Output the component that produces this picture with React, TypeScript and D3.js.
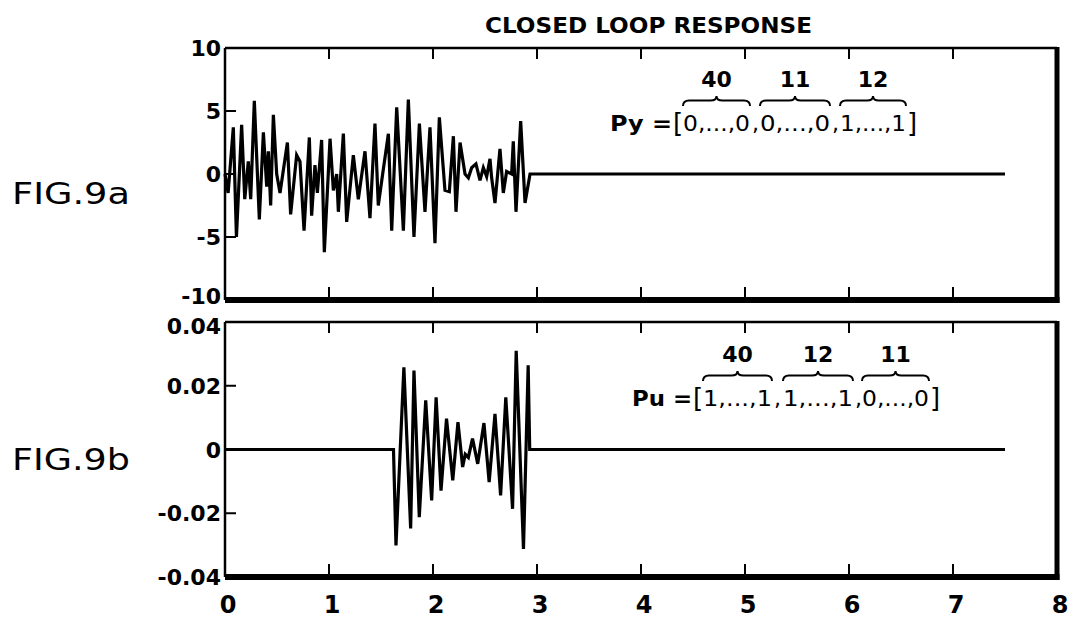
import React from 'react'
import * as d3 from 'd3'

// top panel: output y, bottom panel: control u (time in seconds)
const yTime = [0, 0.03, 0.08, 0.11, 0.16, 0.19, 0.224, 0.247, 0.282, 0.33, 0.369, 0.401, 0.417, 0.439, 0.465, 0.497, 0.529, 0.6, 0.631, 0.689, 0.721, 0.76, 0.811, 0.833, 0.865, 0.888, 0.929, 0.955, 1.01, 1.042, 1.074, 1.09, 1.138, 1.17, 1.234, 1.282, 1.346, 1.394, 1.442, 1.474, 1.516, 1.571, 1.603, 1.651, 1.715, 1.763, 1.817, 1.869, 1.923, 1.971, 2.019, 2.061, 2.115, 2.157, 2.196, 2.221, 2.26, 2.308, 2.34, 2.372, 2.413, 2.452, 2.484, 2.516, 2.548, 2.564, 2.596, 2.644, 2.676, 2.708, 2.756, 2.772, 2.798, 2.843, 2.885, 2.933, 7.5]
const yValues = [0, -1.5, 3.7, -5, 3.9, -2, 1, -2, 5.8, -3.6, 3.3, -1, 1.8, -2.5, 4.7, 0, -1.5, 2.5, -3.2, 1.5, 1, -4.5, 2.9, -3.3, 0.7, -1.5, 2.7, -6.2, 2.8, -1.3, 0, -3, 3.2, -3.8, 1.5, -2, 1.8, -3.5, 4, -2.5, 0, 3.2, -4.5, 5.3, -4.5, 5.9, -5, 4, -3, 3.7, -5.5, 4.5, -1.3, -1.4, 3, -3, 2.5, 0, -0.3, 0.5, 0.8, -0.5, 0.5, -0.2, 1.2, -0.3, -2.3, 2, -1.5, 0.2, 0, 2.6, -3, 4.2, -2.3, 0, 0]

const uTime = [0, 1.62, 1.644, 1.72, 1.785, 1.817, 1.868, 1.93, 1.987, 2.03, 2.077, 2.13, 2.19, 2.24, 2.285, 2.31, 2.34, 2.38, 2.43, 2.49, 2.54, 2.596, 2.65, 2.7, 2.765, 2.8, 2.87, 2.915, 2.93, 7.5]
const uValues = [0, 0, -0.0301, 0.0258, -0.0248, 0.0248, -0.0212, 0.0154, -0.016, 0.0164, -0.0129, 0.0097, -0.0097, 0.0086, -0.0055, -0.0015, -0.0025, 0.0034, -0.0045, 0.0083, -0.0102, 0.0112, -0.0144, 0.0164, -0.0186, 0.031, -0.0312, 0.0264, 0, 0]

const xTicks = [0, 1, 2, 3, 4, 5, 6, 7, 8]
const yTicksTop = [10, 5, 0, -5, -10]
const yTicksBot = [0.04, 0.02, 0, -0.02, -0.04]

const pyCounts = ['40', '11', '12']
const pyGroups = ['0,...,0', '0,...,0', '1,...,1']
const puCounts = ['40', '12', '11']
const puGroups = ['1,...,1', '1,...,1', '0,...,0']

const font = '"DejaVu Sans", sans-serif'

function brace(x1: number, x2: number, y: number, h: number) {
  const m = (x1 + x2) / 2
  const yl = y - h * 0.55
  const r = 6
  return `M${x1},${y} Q${x1},${yl} ${x1 + r},${yl} L${m - r},${yl} Q${m},${yl} ${m},${y - h} Q${m},${yl} ${m + r},${yl} L${x2 - r},${yl} Q${x2},${yl} ${x2},${y}`
}

function Annotation({label, x0, lblEnd, groups, counts, spans, base}: any) {
  return (
    <g fontFamily={font} fontWeight="bold" fill="#000">
      <text x={x0} y={base} fontSize={22} textLength={lblEnd - x0} lengthAdjust="spacingAndGlyphs">{label}</text>
      <text x={lblEnd + 1} y={base + 1} fontSize={26} fontWeight="normal">[</text>
      {spans.map((s: number[], i: number) => (
        <g key={i}>
          <text x={s[0]} y={base} fontSize={22} fontWeight="normal" textLength={s[1] - s[0]} lengthAdjust="spacingAndGlyphs">{groups[i]}</text>
          {i < 2 && <text x={s[1] + 2} y={base} fontSize={22} fontWeight="normal">,</text>}
          <path d={brace(s[0], s[1], base - 25, 10)} fill="none" stroke="#000" strokeWidth={2} />
          <text x={(s[0] + s[1]) / 2} y={base - 44} fontSize={22} textAnchor="middle">{counts[i]}</text>
        </g>
      ))}
      <text x={spans[2][1] + 1} y={base + 1} fontSize={26} fontWeight="normal">]</text>
    </g>
  )
}

export default function App() {
  const x = d3.scaleLinear().domain([0, 8]).range([225, 1057])
  const yTop = d3.scaleLinear().domain([-10, 10]).range([300, 48])
  const yBot = d3.scaleLinear().domain([-0.04, 0.04]).range([577, 322])

  const lineTop = d3.line<number>().x((d, i) => x(yTime[i])).y(d => yTop(d))
  const lineBot = d3.line<number>().x((d, i) => x(uTime[i])).y(d => yBot(d))

  const L = x(0), R = x(8)
  const tickLen = 11

  // labelShift: nudges the end labels so -10 and 0.04 do not collide
  const panel = (yScale: any, ticks: number[], fmt: (v: number) => string, firstShift: number, lastShift: number) => {
    const t = yScale(ticks[0]), b = yScale(ticks[ticks.length - 1])
    return (
      <g>
        <line x1={L} x2={R} y1={t} y2={t} stroke="#000" strokeWidth={2.5} />
        <line x1={L} x2={L} y1={t} y2={b} stroke="#000" strokeWidth={2.5} />
        <line x1={R} x2={R} y1={t - 1} y2={b + 3} stroke="#000" strokeWidth={5} />
        <line x1={L} x2={R + 2.5} y1={b} y2={b} stroke="#000" strokeWidth={6} />
        {xTicks.slice(1, -1).map(v => (
          <g key={v}>
            <line x1={x(v)} x2={x(v)} y1={t} y2={t + tickLen} stroke="#000" strokeWidth={2} />
            <line x1={x(v)} x2={x(v)} y1={b} y2={b - tickLen - 2} stroke="#000" strokeWidth={2} />
          </g>
        ))}
        {ticks.slice(1, -1).map(v => (
          <line key={v} x1={L} x2={L + tickLen} y1={yScale(v)} y2={yScale(v)} stroke="#000" strokeWidth={2} />
        ))}
        {ticks.map((v, i) => {
          const shift = i === 0 ? firstShift : i === ticks.length - 1 ? lastShift : 0
          return (
            <text key={v} x={221} y={yScale(v) + 8 + shift} textAnchor="end" fontFamily={font} fontSize={22} fontWeight="bold">{fmt(v)}</text>
          )
        })}
      </g>
    )
  }

  return (
    <svg width={1069} height={619} style={{position: 'absolute', left: 0, top: 0, background: '#fff'}}>
      <rect width={1069} height={619} fill="#fff" />
      <text x={485} y={33} fontFamily={font} fontSize={21} fontWeight="bold" textLength={327} lengthAdjust="spacingAndGlyphs">CLOSED LOOP RESPONSE</text>

      {panel(yTop, yTicksTop, v => String(v), 0, -4)}
      {panel(yBot, yTicksBot, v => (v === 0 ? '0' : String(v)), 4, 0)}

      <path d={lineTop(yValues) || ''} fill="none" stroke="#000" strokeWidth={3.2} strokeLinejoin="miter" />
      <path d={lineBot(uValues) || ''} fill="none" stroke="#000" strokeWidth={3.2} strokeLinejoin="miter" />

      {xTicks.map(v => (
        <text key={v} x={x(v) + 3} y={613} textAnchor="middle" fontFamily={font} fontSize={24} fontWeight="bold">{v}</text>
      ))}

      <text x={12} y={204} fontFamily={font} fontSize={30} textLength={118} lengthAdjust="spacingAndGlyphs">FIG.9a</text>
      <text x={12} y={470} fontFamily={font} fontSize={30} textLength={118} lengthAdjust="spacingAndGlyphs">FIG.9b</text>

      <Annotation label="Py =" x0={610} lblEnd={672} groups={pyGroups} counts={pyCounts} base={131}
        spans={[[683, 750], [760, 830], [840, 906]]} />
      <Annotation label="Pu =" x0={632} lblEnd={692} groups={puGroups} counts={puCounts} base={406}
        spans={[[703, 772], [783, 853], [862, 929]]} />
    </svg>
  )
}
